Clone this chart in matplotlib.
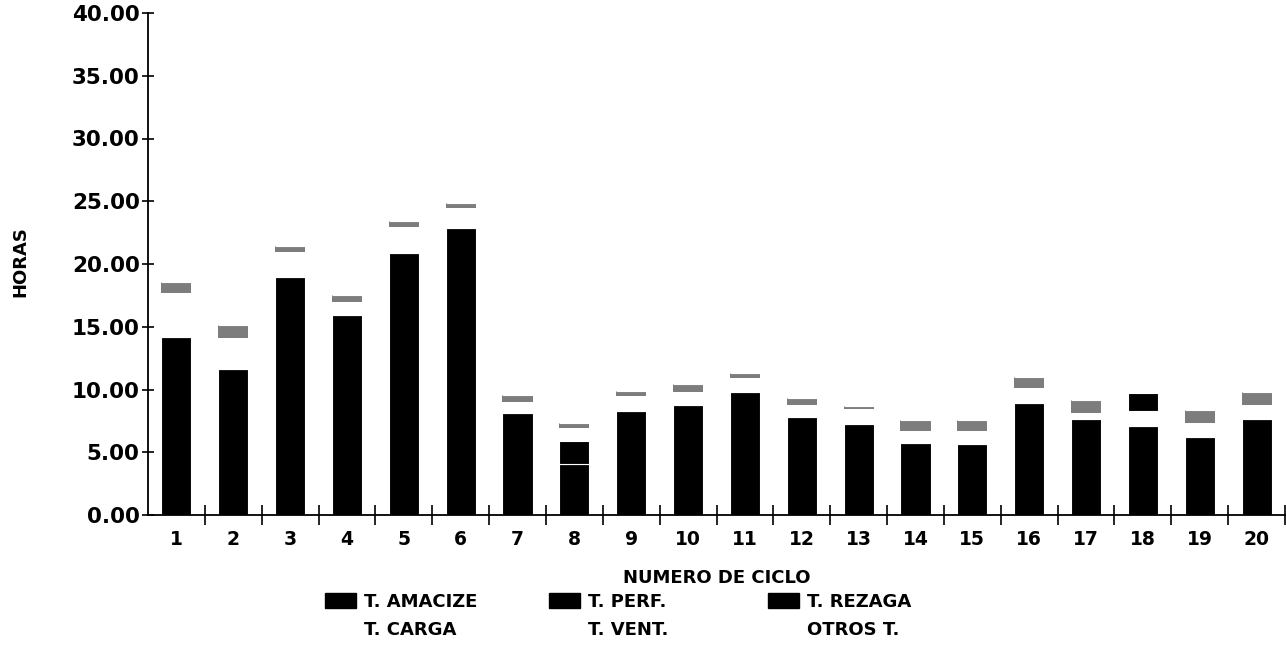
#---- Tiempos por ciclo : barras apiladas (reproduccion de grafico escaneado)

import numpy as np
import matplotlib
matplotlib.use("Agg")
import matplotlib.pyplot as plt
from matplotlib.patches import Patch
from matplotlib.ticker import FormatStrFormatter, FixedLocator

plt.rcParams['font.family'] = ['DejaVu Sans']
plt.rcParams['font.weight'] = 'bold'

#---- Datos (horas)
ciclos = [str(i) for i in range(1, 21)]
t_base = [14.2, 11.6, 19.0, 15.9, 20.9, 22.9, 8.1, 4.06, 8.3, 8.8,
          9.8, 7.8, 7.25, 5.7, 5.66, 8.9, 7.65, 7.1, 6.2, 7.65]
t_base2 = [0, 0, 0, 0, 0, 0, 0, 1.84, 0, 0,
           0, 0, 0, 0, 0, 0, 0, 0, 0, 0]
t_hueco = [3.5, 2.5, 1.96, 1.1, 2.05, 1.6, 0.9, 1.0, 1.2, 1.0,
           1.1, 1.0, 1.2, 1.0, 1.04, 1.2, 0.45, 1.2, 1.1, 1.15]
t_gris = [0.9, 1.0, 0.44, 0.5, 0.45, 0.4, 0.6, 0.4, 0.4, 0.6,
          0.4, 0.5, 0.25, 0.9, 0.9, 0.9, 1.1, 0, 1.1, 1.0]
t_negro_sup = [0, 0, 0, 0, 0, 0, 0, 0, 0, 0,
               0, 0, 0, 0, 0, 0, 0, 1.4, 0, 0]
leyenda = [("T. AMACIZE", "T. CARGA"), ("T. PERF.", "T. VENT."), ("T. REZAGA", "OTROS T.")]

W, H = 1286, 649
fig = plt.figure(figsize=(W/100, H/100), dpi=100)
ax = fig.add_axes([148/W, 1-515/H, (1285-148)/W, (515-13)/H])

x = np.arange(1, 21)
wb = 0.53
fondo = np.zeros(20)
for vals, col in [(t_base, 'black'), (t_base2, 'black'), (t_hueco, 'white'),
                  (t_gris, '#7d7d7d'), (t_negro_sup, 'black')]:
    vals = np.array(vals)
    ax.bar(x, vals, wb, bottom=fondo, color=col, edgecolor='white' if col == 'black' else col,
           linewidth=0.8 if col == 'black' else 0)
    fondo = fondo + vals

#---- Ejes
ax.set_xlim(0.5, 20.5)
ax.set_ylim(0, 40)
ax.set_yticks(np.arange(0, 41, 5))
ax.yaxis.set_major_formatter(FormatStrFormatter('%.2f'))
ax.set_xticks(x)
ax.set_xticklabels(ciclos)
ax.xaxis.set_minor_locator(FixedLocator(np.arange(1.5, 20.6, 1)))
ax.tick_params(axis='x', which='major', length=0, pad=11, labelsize=13.5)
ax.tick_params(axis='x', which='minor', direction='inout', length=14, width=1.2)
ax.tick_params(axis='y', direction='inout', length=8, width=1.2, labelsize=15.5, pad=2)
for s in ['top', 'right']:
    ax.spines[s].set_visible(False)
for s in ['left', 'bottom']:
    ax.spines[s].set_linewidth(1.3)

ax.set_xlabel("NUMERO DE CICLO", fontsize=13, fontweight='bold', labelpad=14)
fig.text(20/W, 1-262/H, "HORAS", rotation=90, fontsize=13, ha='center', va='center')

#---- Leyenda (una por columna, recuadro alineado con la primera linea)
pos_x = [325, 549, 768]
for px, (l1, l2) in zip(pos_x, leyenda):
    hs = [Patch(facecolor='black', edgecolor='black'),
          Patch(facecolor='none', edgecolor='none')]
    fig.legend(hs, [l1, l2], loc='upper left', bbox_to_anchor=(px/W, 1-593/H),
               frameon=False, fontsize=13, handlelength=1.7, handleheight=0.9,
               handletextpad=0.45, labelspacing=0.58, borderpad=0, borderaxespad=0)

fig.savefig("out.png", dpi=100)
